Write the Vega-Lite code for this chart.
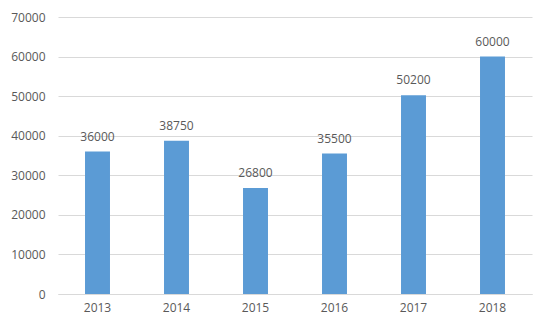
{
  "$schema": "https://vega.github.io/schema/vega-lite/v6.json",
  "width": 474,
  "height": 277,
  "autosize": {"type": "none"},
  "padding": {"left": 58, "top": 17, "right": 18, "bottom": 37},
  "background": "white",
  "config": {
    "view": {"stroke": null},
    "font": "Open Sans"
  },
  "data": {
    "values": [
      {"year": "2013", "value": 36000},
      {"year": "2014", "value": 38750},
      {"year": "2015", "value": 26800},
      {"year": "2016", "value": 35500},
      {"year": "2017", "value": 50200},
      {"year": "2018", "value": 60000}
    ]
  },
  "encoding": {
    "x": {
      "field": "year",
      "type": "ordinal",
      "scale": {"paddingInner": 0.684, "paddingOuter": 0.342},
      "axis": {
        "title": null,
        "labelAngle": 0,
        "ticks": false,
        "domain": true,
        "domainColor": "#d9d9d9",
        "labelColor": "#595959",
        "labelFont": "Open Sans",
        "labelFontSize": 12,
        "labelPadding": 8
      }
    },
    "y": {
      "field": "value",
      "type": "quantitative",
      "scale": {"domain": [0, 70000], "nice": false},
      "axis": {
        "title": null,
        "values": [0, 10000, 20000, 30000, 40000, 50000, 60000, 70000],
        "format": "d",
        "ticks": false,
        "domain": false,
        "gridColor": "#d9d9d9",
        "labelColor": "#595959",
        "labelFont": "Open Sans",
        "labelFontSize": 12,
        "labelPadding": 13
      }
    }
  },
  "layer": [
    {"mark": {"type": "bar", "color": "#5b9bd5"}},
    {
      "mark": {"type": "text", "dy": -15, "color": "#595959", "fontSize": 12, "font": "Open Sans"},
      "encoding": {"text": {"field": "value", "type": "quantitative", "format": "d"}}
    }
  ]
}
